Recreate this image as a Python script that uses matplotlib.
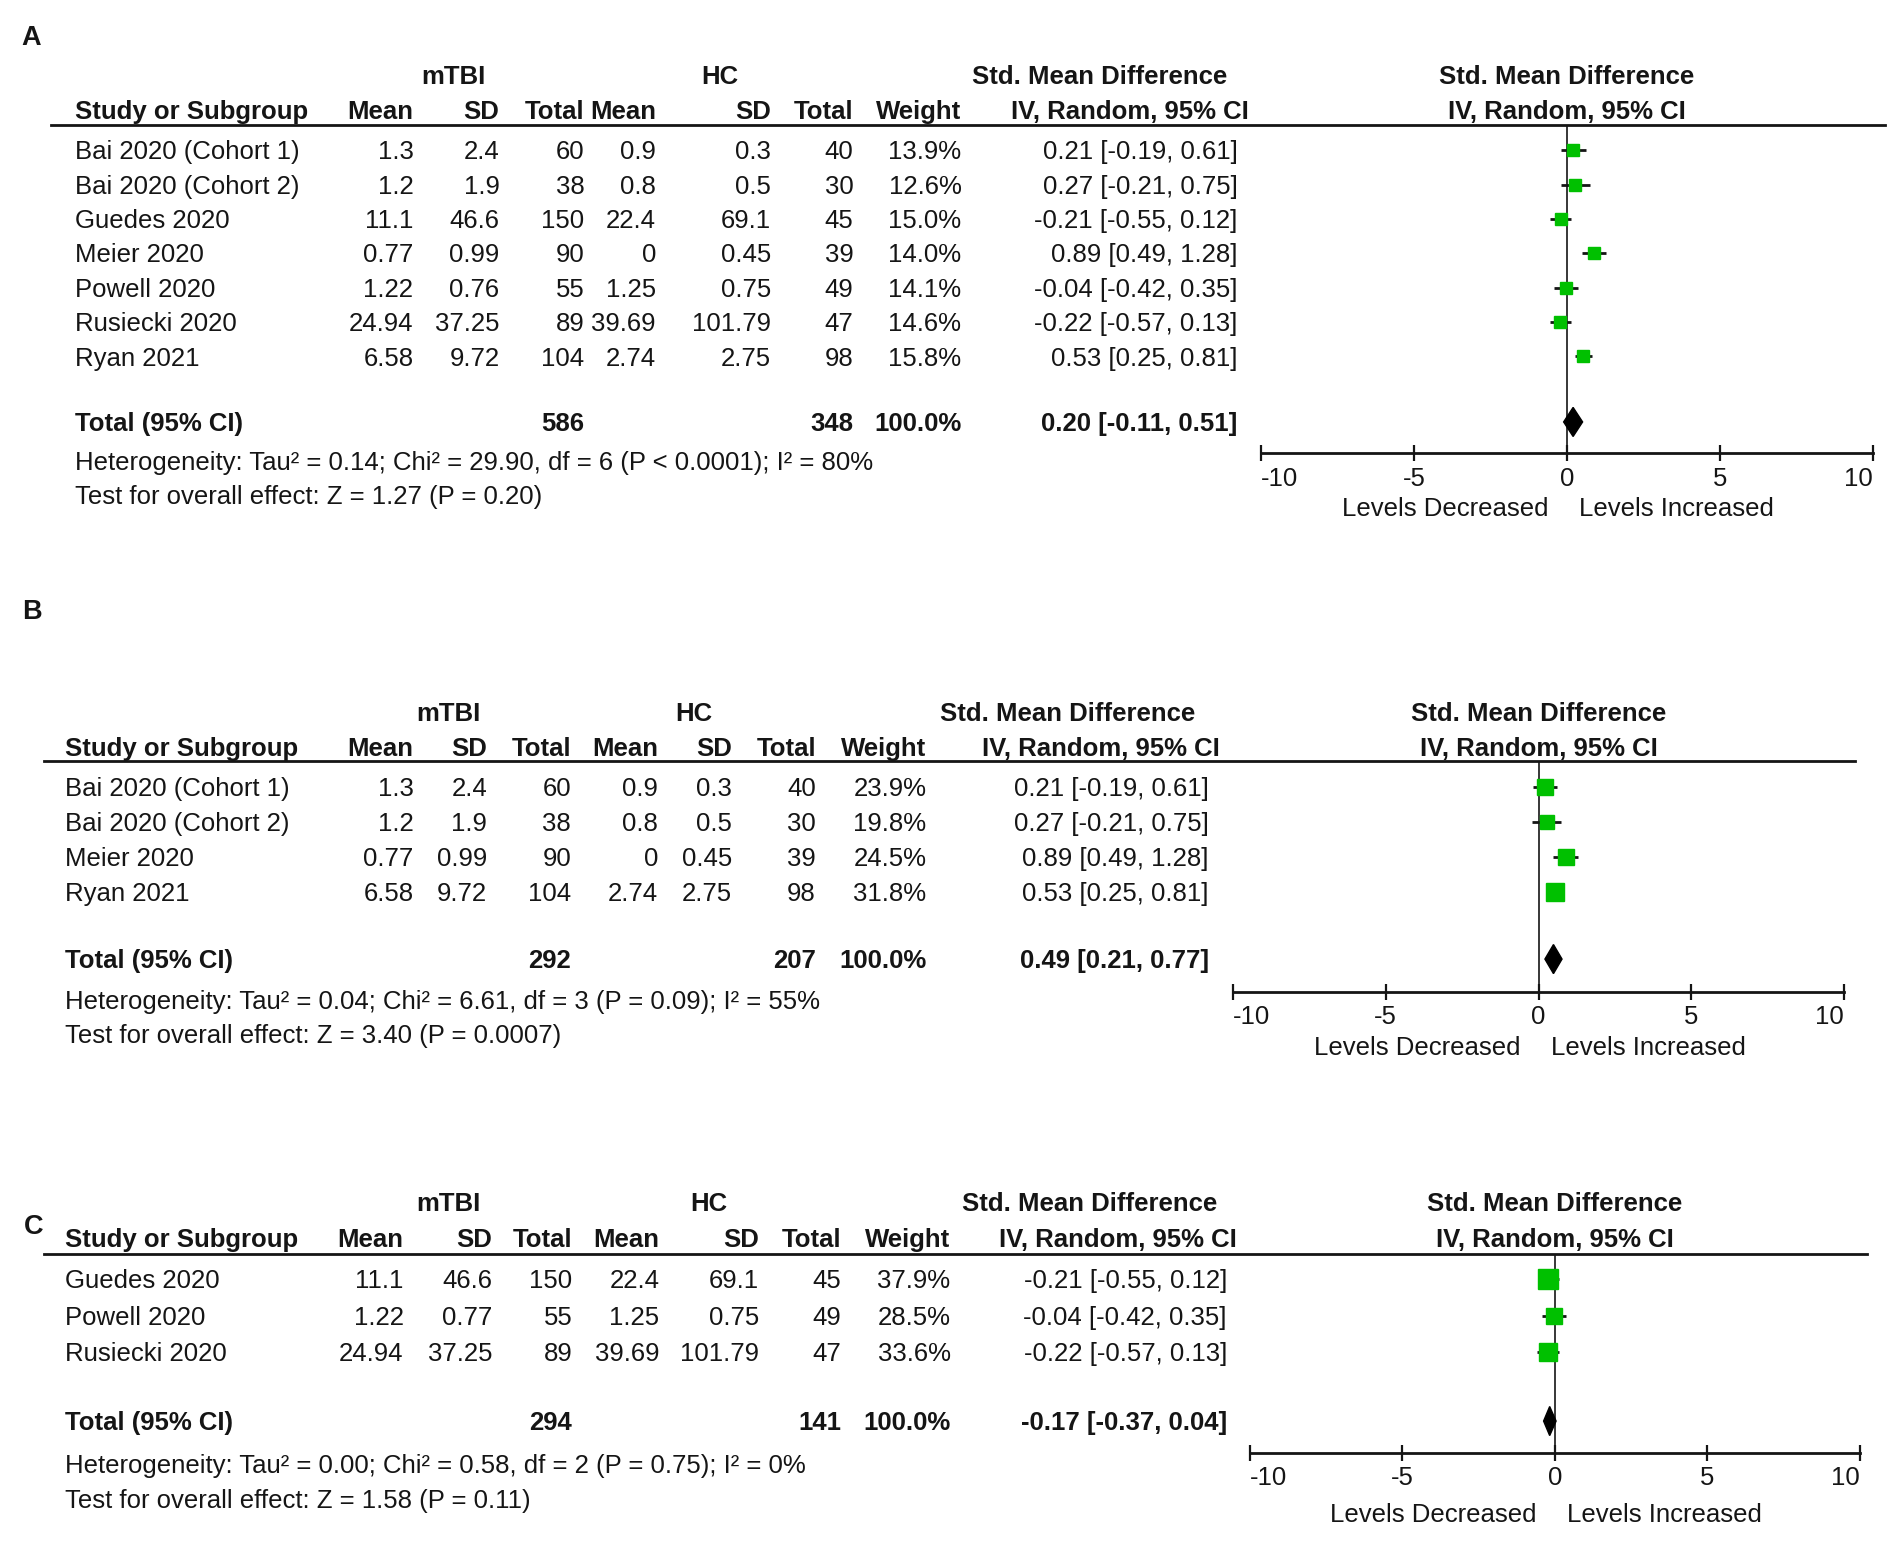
import matplotlib.pyplot as plt
from matplotlib.lines import Line2D

plt.rcParams['font.family'] = ['Liberation Sans', 'DejaVu Sans']
plt.rcParams['axes.unicode_minus'] = False

# ---- data: panel A (all studies) ----
studies_a = ["Bai 2020 (Cohort 1)", "Bai 2020 (Cohort 2)", "Guedes 2020", "Meier 2020",
             "Powell 2020", "Rusiecki 2020", "Ryan 2021"]
mtbi_mean_a = ["1.3", "1.2", "11.1", "0.77", "1.22", "24.94", "6.58"]
mtbi_sd_a = ["2.4", "1.9", "46.6", "0.99", "0.76", "37.25", "9.72"]
mtbi_n_a = [60, 38, 150, 90, 55, 89, 104]
hc_mean_a = ["0.9", "0.8", "22.4", "0", "1.25", "39.69", "2.74"]
hc_sd_a = ["0.3", "0.5", "69.1", "0.45", "0.75", "101.79", "2.75"]
hc_n_a = [40, 30, 45, 39, 49, 47, 98]
weight_a = [13.9, 12.6, 15.0, 14.0, 14.1, 14.6, 15.8]
smd_a = [0.21, 0.27, -0.21, 0.89, -0.04, -0.22, 0.53]
lo_a = [-0.19, -0.21, -0.55, 0.49, -0.42, -0.57, 0.25]
hi_a = [0.61, 0.75, 0.12, 1.28, 0.35, 0.13, 0.81]
total_a = (586, 348, 0.20, -0.11, 0.51)
het_a = "Heterogeneity: Tau² = 0.14; Chi² = 29.90, df = 6 (P < 0.0001); I² = 80%"
test_a = "Test for overall effect: Z = 1.27 (P = 0.20)"

# ---- data: panel B ----
studies_b = ["Bai 2020 (Cohort 1)", "Bai 2020 (Cohort 2)", "Meier 2020", "Ryan 2021"]
mtbi_mean_b = ["1.3", "1.2", "0.77", "6.58"]
mtbi_sd_b = ["2.4", "1.9", "0.99", "9.72"]
mtbi_n_b = [60, 38, 90, 104]
hc_mean_b = ["0.9", "0.8", "0", "2.74"]
hc_sd_b = ["0.3", "0.5", "0.45", "2.75"]
hc_n_b = [40, 30, 39, 98]
weight_b = [23.9, 19.8, 24.5, 31.8]
smd_b = [0.21, 0.27, 0.89, 0.53]
lo_b = [-0.19, -0.21, 0.49, 0.25]
hi_b = [0.61, 0.75, 1.28, 0.81]
total_b = (292, 207, 0.49, 0.21, 0.77)
het_b = "Heterogeneity: Tau² = 0.04; Chi² = 6.61, df = 3 (P = 0.09); I² = 55%"
test_b = "Test for overall effect: Z = 3.40 (P = 0.0007)"

# ---- data: panel C ----
studies_c = ["Guedes 2020", "Powell 2020", "Rusiecki 2020"]
mtbi_mean_c = ["11.1", "1.22", "24.94"]
mtbi_sd_c = ["46.6", "0.77", "37.25"]
mtbi_n_c = [150, 55, 89]
hc_mean_c = ["22.4", "1.25", "39.69"]
hc_sd_c = ["69.1", "0.75", "101.79"]
hc_n_c = [45, 49, 47]
weight_c = [37.9, 28.5, 33.6]
smd_c = [-0.21, -0.04, -0.22]
lo_c = [-0.55, -0.42, -0.57]
hi_c = [0.12, 0.35, 0.13]
total_c = (294, 141, -0.17, -0.37, 0.04)
het_c = "Heterogeneity: Tau² = 0.00; Chi² = 0.58, df = 2 (P = 0.75); I² = 0%"
test_c = "Test for overall effect: Z = 1.58 (P = 0.11)"

ticks = [-10, -5, 0, 5, 10]
tick_labels = ["-10", "-5", "0", "5", "10"]
col_heads = ["Mean", "SD", "Total", "Mean", "SD", "Total", "Weight"]

# layout in reference units (1568 x 1280 grid)
W, H = 1568.0, 1280.0
FS = 18.5
GREEN = '#00c000'
INK = '#151515'


def fx(x):
    return x / W


def fy(y):
    return 1 - y / H


fig = plt.figure(figsize=(19.01, 15.52), dpi=100)


def txt(x, y, s, ha='left', bold=False, size=FS):
    # y is the visual middle of capital letters
    fig.text(fx(x), fy(y + 7.5), s, ha=ha, va='baseline', fontsize=size,
             fontweight='bold' if bold else 'normal', color=INK)


def panel(letter, lay, studies, m1, s1, n1, m2, s2, n2, w, est, lo, hi, tot, het, test):
    lx, ly = lay['letter']
    txt(lx, ly, letter, bold=True, size=19.5)
    cols = lay['cols']
    y1, y2 = lay['head']
    txt(lay['mtbi'], y1, "mTBI", ha='center', bold=True)
    txt(lay['hc'], y1, "HC", ha='center', bold=True)
    txt(lay['smd'], y1, "Std. Mean Difference", ha='center', bold=True)
    txt(lay['left'], y2, "Study or Subgroup", bold=True)
    for xr, h in zip(cols, col_heads):
        txt(xr, y2, h, ha='right', bold=True)
    txt(lay['iv'], y2, "IV, Random, 95% CI", ha='right', bold=True)

    x0, x1 = lay['forest']
    xc = (x0 + x1) / 2
    txt(xc, y1, "Std. Mean Difference", ha='center', bold=True)
    txt(xc, y2, "IV, Random, 95% CI", ha='center', bold=True)

    ln = lay['line']
    fig.add_artist(Line2D([fx(lay['line_x'][0]), fx(lay['line_x'][1])], [fy(ln), fy(ln)],
                          color=INK, lw=2.0))

    rows = [lay['row0'] + i * lay['step'] for i in range(len(studies))]
    for i, y in enumerate(rows):
        txt(lay['left'], y, studies[i])
        vals = [m1[i], s1[i], str(n1[i]), m2[i], s2[i], str(n2[i]), f"{w[i]:.1f}%"]
        for xr, v in zip(cols, vals):
            txt(xr, y, v, ha='right')
        txt(lay['ci'], y, f"{est[i]:.2f} [{lo[i]:.2f}, {hi[i]:.2f}]", ha='right')

    yt = lay['total']
    txt(lay['left'], yt, "Total (95% CI)", bold=True)
    txt(cols[2], yt, str(tot[0]), ha='right', bold=True)
    txt(cols[5], yt, str(tot[1]), ha='right', bold=True)
    txt(cols[6], yt, "100.0%", ha='right', bold=True)
    txt(lay['ci'], yt, f"{tot[2]:.2f} [{tot[3]:.2f}, {tot[4]:.2f}]", ha='right', bold=True)
    txt(lay['left'], lay['het'], het)
    txt(lay['left'], lay['het'] + lay['step2'], test)

    # forest plot
    ya = lay['axis']
    ax = fig.add_axes([fx(x0), fy(ya), fx(x1) - fx(x0), (ya - ln) / H])
    ax.set_xlim(-10, 10)
    ax.set_ylim(ya, ln)
    ax.patch.set_alpha(0)
    for sp in ['top', 'left', 'right']:
        ax.spines[sp].set_visible(False)
    ax.spines['bottom'].set_linewidth(2.0)
    ax.spines['bottom'].set_color(INK)
    ax.set_yticks([])
    ax.set_xticks(ticks)
    ax.set_xticklabels(tick_labels)
    ax.tick_params(axis='x', direction='inout', length=11, width=1.6, pad=4,
                   labelsize=FS, colors=INK)
    labels = ax.get_xticklabels()
    labels[0].set_horizontalalignment('left')
    labels[-1].set_horizontalalignment('right')
    ax.axvline(0, color=INK, lw=1.2, zorder=1)
    ax.hlines(rows, lo, hi, color=INK, lw=2.0, zorder=2)
    for i, y in enumerate(rows):
        ax.plot(est[i], y, marker='s', ms=2.25 * w[i] ** 0.5, color=GREEN,
                mec=GREEN, ls='none', zorder=3)
    hh = 12
    ax.fill([tot[3], tot[2], tot[4], tot[2]], [yt, yt - hh, yt, yt + hh],
            color='black', zorder=3)
    z = x0 + (x1 - x0) / 2
    txt(z - 15, lay['levels'], "Levels Decreased", ha='right')
    txt(z + 10, lay['levels'], "Levels Increased", ha='left')


lay_a = dict(letter=(18, 30), head=(62, 91), mtbi=374, hc=594, smd=907, left=62,
             iv=1030, cols=[341, 412, 482, 541, 636, 704, 793], ci=1021,
             forest=(1040, 1545), line=103, line_x=(42, 1555),
             row0=124, step=28.33, total=348, het=380, step2=28, axis=374, levels=418)
lay_b = dict(letter=(18, 503), head=(587, 616), mtbi=370, hc=572, smd=881, left=54,
             iv=1006, cols=[341, 402, 471, 543, 604, 673, 764], ci=997,
             forest=(1017, 1521), line=628, line_x=(36, 1530),
             row0=649, step=29, total=791, het=825, step2=28, axis=818, levels=863)
lay_c = dict(letter=(20, 1010), head=(991, 1021), mtbi=370, hc=585, smd=899, left=54,
             iv=1020, cols=[333, 406, 472, 544, 626, 694, 784], ci=1012,
             forest=(1031, 1534), line=1034, line_x=(36, 1540),
             row0=1055, step=30, total=1172, het=1207, step2=29, axis=1198, levels=1248)

panel("A", lay_a, studies_a, mtbi_mean_a, mtbi_sd_a, mtbi_n_a, hc_mean_a, hc_sd_a, hc_n_a,
      weight_a, smd_a, lo_a, hi_a, total_a, het_a, test_a)
panel("B", lay_b, studies_b, mtbi_mean_b, mtbi_sd_b, mtbi_n_b, hc_mean_b, hc_sd_b, hc_n_b,
      weight_b, smd_b, lo_b, hi_b, total_b, het_b, test_b)
panel("C", lay_c, studies_c, mtbi_mean_c, mtbi_sd_c, mtbi_n_c, hc_mean_c, hc_sd_c, hc_n_c,
      weight_c, smd_c, lo_c, hi_c, total_c, het_c, test_c)

fig.savefig("out.png", dpi=100)
